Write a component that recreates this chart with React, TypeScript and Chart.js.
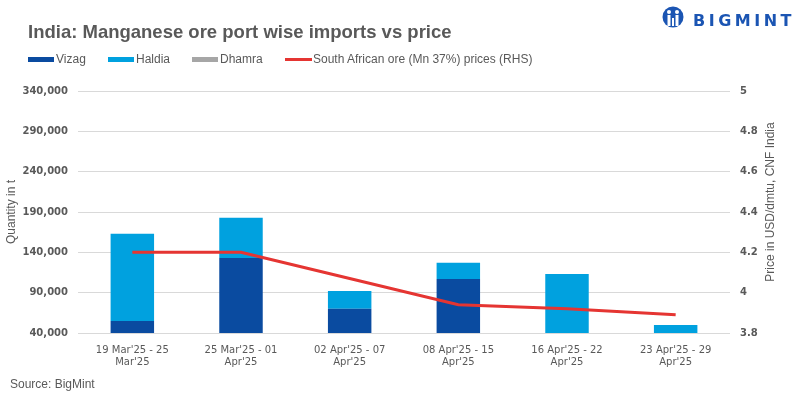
import React, { useEffect, useRef } from "react";
import { Chart, registerables } from "chart.js";

Chart.register(...registerables);

// ---- data ----
const categories: string[][] = [
  ["19 Mar'25 - 25", "Mar'25"],
  ["25 Mar'25 - 01", "Apr'25"],
  ["02 Apr'25 - 07", "Apr'25"],
  ["08 Apr'25 - 15", "Apr'25"],
  ["16 Apr'25 - 22", "Apr'25"],
  ["23 Apr'25 - 29", "Apr'25"],
];
const vizag = [55000, 133000, 70000, 107000, 0, 0];
const haldia = [108000, 50000, 22000, 20000, 113000, 50000];
const dhamra = [0, 0, 0, 0, 0, 0];
const saPrice = [4.2, 4.2, 4.07, 3.94, 3.92, 3.89];

const qtyMin = 40000;
const qtyMax = 340000;
const qtyStep = 50000;
const priceMin = 3.8;
const priceMax = 5;
const priceStep = 0.2;

const seriesNames = ["Vizag", "Haldia", "Dhamra", "South African ore (Mn 37%) prices (RHS)"];
const leftTitle = "Quantity in t";
const rightTitle = "Price in USD/dmtu, CNF India";
const chartTitle = "India: Manganese ore port wise imports vs price";
const sourceText = "Source: BigMint";

// ---- styles ----
const C_VIZAG = "#0a4ba0";
const C_HALDIA = "#00a1df";
const C_DHAMRA = "#a6a6a6";
const C_RED = "#e53532";
const TXT = "#595959";
const GRID = "#d9d9d9";

const rightTitlePlugin = {
  id: "rightTitle",
  afterDraw(chart: any) {
    const { ctx, chartArea } = chart;
    ctx.save();
    ctx.font = "12px 'Liberation Sans', Arial, sans-serif";
    ctx.fillStyle = TXT;
    ctx.textAlign = "center";
    ctx.textBaseline = "middle";
    ctx.translate(chart.width - 28, (chartArea.top + chartArea.bottom) / 2 - 10);
    ctx.rotate(-Math.PI / 2);
    ctx.fillText(rightTitle, 0, 0);
    ctx.restore();
  },
};

export default function App() {
  const ref = useRef<HTMLCanvasElement | null>(null);

  useEffect(() => {
    if (!ref.current) return;
    const chart = new Chart(ref.current, {
      type: "bar",
      data: {
        labels: categories as any,
        datasets: [
          { type: "bar", label: seriesNames[0], data: vizag, backgroundColor: C_VIZAG, yAxisID: "y", order: 1, barPercentage: 0.5, categoryPercentage: 0.8 },
          { type: "bar", label: seriesNames[1], data: haldia, backgroundColor: C_HALDIA, yAxisID: "y", order: 1, barPercentage: 0.5, categoryPercentage: 0.8 },
          { type: "bar", label: seriesNames[2], data: dhamra, backgroundColor: C_DHAMRA, yAxisID: "y", order: 1, barPercentage: 0.5, categoryPercentage: 0.8 },
          {
            type: "line",
            label: seriesNames[3],
            data: saPrice,
            borderColor: C_RED,
            backgroundColor: C_RED,
            borderWidth: 3,
            pointRadius: 0,
            tension: 0,
            yAxisID: "y1",
            order: 0,
          } as any,
        ],
      },
      options: {
        responsive: false,
        animation: false,
        devicePixelRatio: 1,
        layout: { padding: { top: 91, left: 0, right: 0, bottom: 0 } },
        plugins: { legend: { display: false }, tooltip: { enabled: false }, title: { display: false } },
        scales: {
          x: {
            stacked: true,
            grid: { display: false, drawTicks: false },
            border: { display: false },
            ticks: {
              color: TXT,
              padding: 11,
              maxRotation: 0,
              autoSkip: false,
              font: { family: "'DejaVu Sans', sans-serif", size: 10, lineHeight: 1.25 },
            },
            afterFit(scale: any) {
              scale.height = 65;
            },
          },
          y: {
            stacked: true,
            position: "left",
            min: qtyMin,
            max: qtyMax,
            grid: { color: GRID, lineWidth: 1, drawTicks: false },
            border: { display: false },
            ticks: {
              stepSize: qtyStep,
              color: TXT,
              padding: 10,
              font: { family: "'DejaVu Sans', sans-serif", size: 10, weight: "bold" },
              callback: (v: any) => Number(v).toLocaleString("en-US"),
            },
            title: {
              display: true,
              text: leftTitle,
              color: TXT,
              padding: { top: 4, bottom: 0 },
              font: { family: "'Liberation Sans', Arial, sans-serif", size: 12 },
            },
            afterFit(scale: any) {
              scale.width = 78;
            },
          },
          y1: {
            position: "right",
            min: priceMin,
            max: priceMax,
            grid: { display: false, drawTicks: false },
            border: { display: false },
            ticks: {
              stepSize: priceStep,
              color: TXT,
              padding: 10,
              font: { family: "'DejaVu Sans', sans-serif", size: 10, weight: "bold" },
              callback: (v: any) => String(Number(Number(v).toFixed(1))),
            },
            afterFit(scale: any) {
              scale.width = 69;
            },
          },
        },
      },
      plugins: [rightTitlePlugin],
    } as any);
    return () => chart.destroy();
  }, []);

  const legendText: React.CSSProperties = {
    position: "absolute",
    top: 53,
    font: "12px 'Liberation Sans', Arial, sans-serif",
    lineHeight: "12px",
    color: TXT,
    whiteSpace: "nowrap",
  };
  const box = (left: number, color: string, h: number, top: number): React.CSSProperties => ({
    position: "absolute",
    left,
    top,
    width: 26,
    height: h,
    background: color,
  });

  return (
    <div style={{ position: "absolute", left: 0, top: 0, width: 799, height: 398, background: "#fff", overflow: "hidden" }}>
      <canvas ref={ref} width={799} height={398} style={{ position: "absolute", left: 0, top: 0, width: 799, height: 398 }} />
      <div
        style={{
          position: "absolute",
          left: 28,
          top: 23,
          font: "bold 18.5px 'Liberation Sans', Arial, sans-serif",
          lineHeight: "18.5px",
          color: TXT,
          whiteSpace: "nowrap",
        }}
      >
        {chartTitle}
      </div>
      <div style={box(28, C_VIZAG, 5, 57)} />
      <div style={{ ...legendText, left: 56 }}>{seriesNames[0]}</div>
      <div style={box(108, C_HALDIA, 5, 57)} />
      <div style={{ ...legendText, left: 136 }}>{seriesNames[1]}</div>
      <div style={box(192, C_DHAMRA, 5, 57)} />
      <div style={{ ...legendText, left: 220 }}>{seriesNames[2]}</div>
      <div style={{ ...box(285, C_RED, 3, 58), width: 27 }} />
      <div style={{ ...legendText, left: 313 }}>{seriesNames[3]}</div>

      <div style={{ position: "absolute", left: 662, top: 6, width: 22, height: 22 }}>
        <svg width="22" height="22" viewBox="0 0 22 22">
          <circle cx="11" cy="11" r="10.5" fill="#1b55b3" />
          <circle cx="7" cy="6" r="2" fill="#fff" />
          <circle cx="15" cy="6" r="2" fill="#fff" />
          <rect x="5.5" y="9" width="3" height="11" fill="#fff" />
          <rect x="13.5" y="9" width="3" height="11" fill="#fff" />
          <rect x="10" y="12" width="2" height="8" fill="#fff" />
        </svg>
      </div>
      <div
        style={{
          position: "absolute",
          left: 693,
          top: 13,
          font: "bold 16px 'DejaVu Sans', sans-serif",
          lineHeight: "16px",
          letterSpacing: "3.5px",
          color: "#1b55b3",
          whiteSpace: "nowrap",
        }}
      >
        BIGMINT
      </div>
      <div
        style={{
          position: "absolute",
          left: 10,
          top: 378,
          font: "12px 'Liberation Sans', Arial, sans-serif",
          lineHeight: "12px",
          color: TXT,
          whiteSpace: "nowrap",
        }}
      >
        {sourceText}
      </div>
    </div>
  );
}
